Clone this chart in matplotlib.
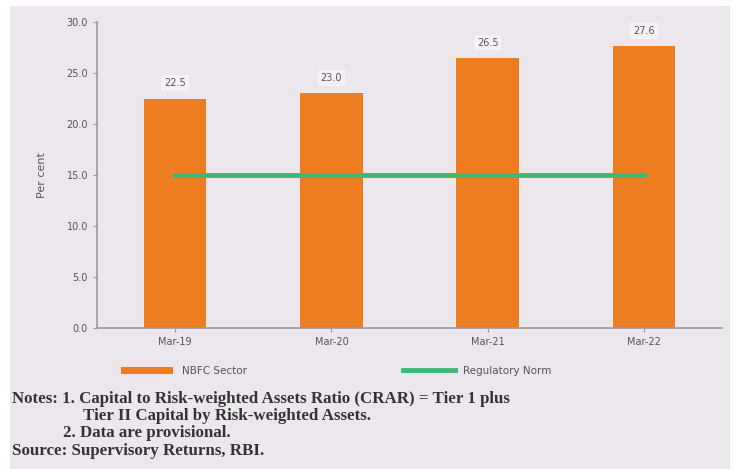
import matplotlib.pyplot as plt
from matplotlib.patches import Rectangle
from matplotlib.lines import Line2D
from matplotlib.patches import Patch

# data
periods = ['Mar-19', 'Mar-20', 'Mar-21', 'Mar-22']
nbfc_crar = [22.5, 23.0, 26.5, 27.6]
reg_norm = [15.0, 15.0, 15.0, 15.0]
yticks = [0, 5, 10, 15, 20, 25, 30]

bg = '#ebe7ec'
orange = '#ee7d22'
green = '#3cb87c'

fig = plt.figure(figsize=(7.35, 4.69), dpi=100, facecolor='white')
fig.patches.append(Rectangle((10 / 735, 0), 720 / 735, 1 - 6 / 469,
                             transform=fig.transFigure, facecolor=bg,
                             edgecolor='none', zorder=-10))

ax = fig.add_axes([97 / 735, 1 - 328 / 469, (722 - 97) / 735, (328 - 22) / 469])
ax.set_facecolor(bg)

x = range(len(periods))
ax.bar(x, nbfc_crar, width=0.4, color=orange, zorder=2)
ax.plot(x, reg_norm, color=green, lw=3.5, zorder=3)

for i, v in zip(x, nbfc_crar):
    ax.text(i, v + 1.0, f'{v:.1f}', ha='center', va='bottom', fontsize=7,
            color='#555555',
            bbox=dict(boxstyle='square,pad=0.3', fc='#f4f2f5', ec='none'))

ax.set_xlim(-0.5, 3.5)
ax.set_ylim(0, 30)
ax.set_yticks(yticks)
ax.set_yticklabels([f'{t:.1f}' for t in yticks], fontsize=7, color='#555555')
ax.set_xticks(list(x))
ax.set_xticklabels(periods, fontsize=7, color='#555555')
ax.tick_params(axis='both', length=3, color='#999999')
ax.set_ylabel('Per cent', fontsize=8, color='#555555', labelpad=14)
for s in ['top', 'right']:
    ax.spines[s].set_visible(False)
for s in ['left', 'bottom']:
    ax.spines[s].set_color('#999999')
    ax.spines[s].set_linewidth(1.2)

handles = [Patch(facecolor=orange, edgecolor='none'),
           Line2D([0], [0], color=green, lw=3.5)]
fig.legend(handles, ['NBFC Sector', 'Regulatory Norm'],
           loc='center left', bbox_to_anchor=(112 / 735, 1 - 371 / 469),
           ncol=2, frameon=False, fontsize=7.5, handlelength=5,
           columnspacing=15, labelcolor='#555555')

note_kw = dict(fontsize=12.2, fontweight='bold', family='Liberation Serif',
               color='#333333', va='center')
fig.text(12 / 735, 1 - 399 / 469,
         'Notes: 1. Capital to Risk-weighted Assets Ratio (CRAR) = Tier 1 plus',
         **note_kw)
fig.text(83 / 735, 1 - 416 / 469,
         'Tier II Capital by Risk-weighted Assets.', **note_kw)
fig.text(63 / 735, 1 - 433 / 469, '2. Data are provisional.', **note_kw)
fig.text(12 / 735, 1 - 451 / 469, 'Source: Supervisory Returns, RBI.', **note_kw)

fig.savefig('out.png', dpi=100, facecolor='white')
